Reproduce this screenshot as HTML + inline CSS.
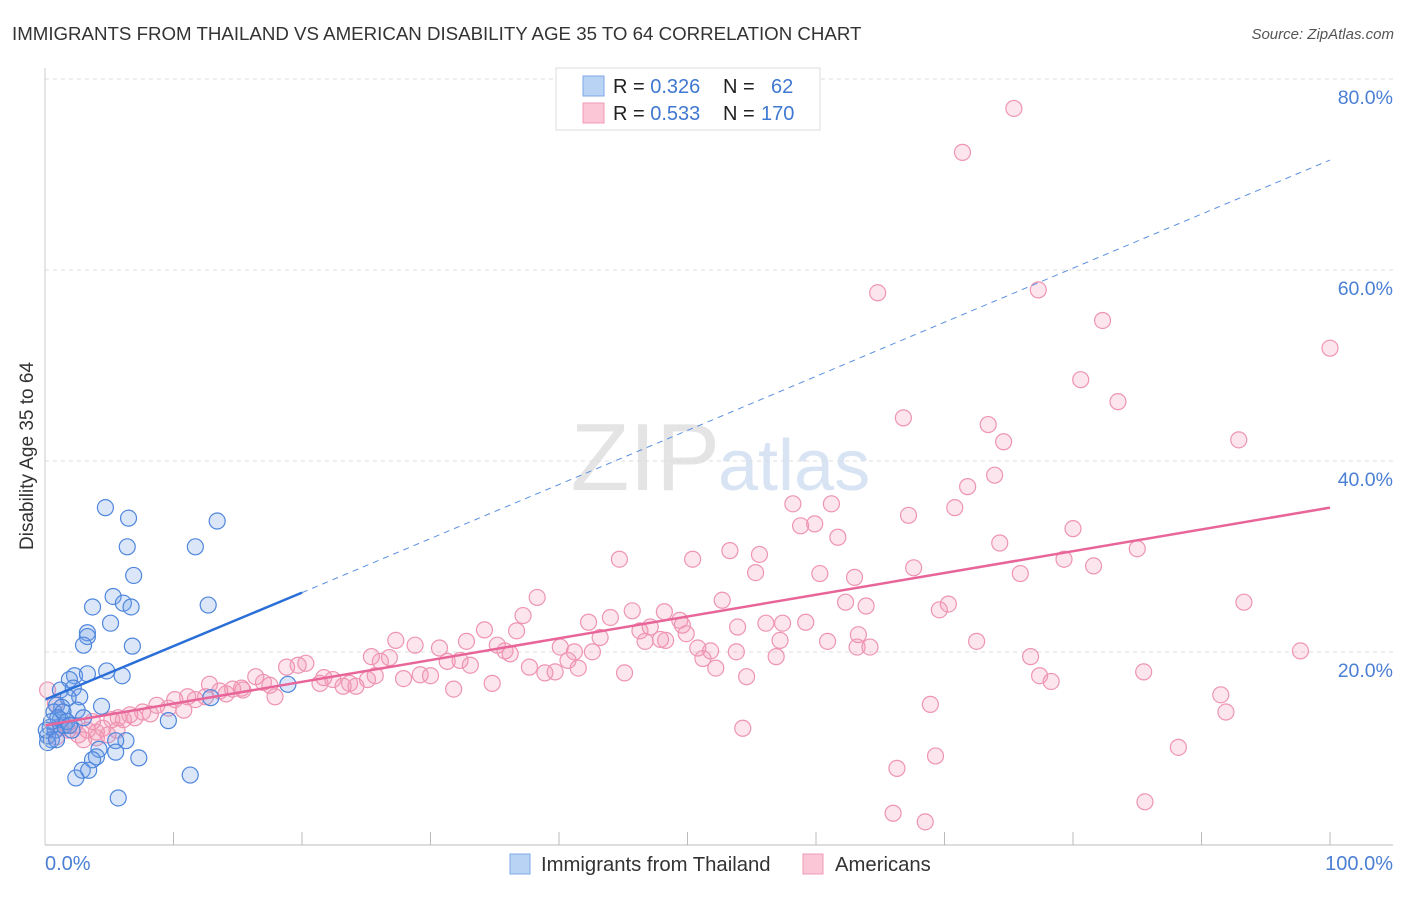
<!DOCTYPE html>
<html><head><meta charset="utf-8"><style>
body{margin:0;background:#fff;font-family:"Liberation Sans",sans-serif;}
svg text{font-family:"Liberation Sans",sans-serif;}
</style></head><body>
<svg id="chart" width="1406" height="892" xmlns="http://www.w3.org/2000/svg">
<text x="12" y="40" font-size="18.7" fill="#333">IMMIGRANTS FROM THAILAND VS AMERICAN DISABILITY AGE 35 TO 64 CORRELATION CHART</text>
<text x="1394" y="39" font-size="15" fill="#555" font-style="italic" text-anchor="end">Source: ZipAtlas.com</text>
<text x="720" y="490" font-size="96" fill="#e4e4e4" text-anchor="end" font-family="Liberation Serif">ZIP</text>
<text x="718" y="490" font-size="72" fill="#d8e4f4">atlas</text>
<text transform="translate(33,456) rotate(-90)" font-size="19" fill="#333" text-anchor="middle">Disability Age 35 to 64</text>
<g id="grid"></g><g id="marks"></g><g id="trends"></g>
<line x1="45" y1="845" x2="1393" y2="845" stroke="#bbb"/>
<line x1="45" y1="68" x2="45" y2="845" stroke="#ccc"/>
<text x="45" y="870" font-size="20" fill="#4a7fd4">0.0%</text>
<text x="1393" y="870" font-size="20" fill="#4a7fd4" text-anchor="end">100.0%</text>
<g>
<rect x="556" y="68" width="264" height="62" fill="#fff" stroke="#ddd"/>
<rect x="583" y="76" width="21" height="20" fill="#b9d3f5" stroke="#7da8e6"/>
<rect x="583" y="103" width="21" height="20" fill="#fbc7d6" stroke="#f09ab4"/>
<text x="613" y="93" font-size="20" fill="#222">R = <tspan fill="#3f78d0">0.326</tspan><tspan x="723">N = </tspan><tspan x="771" fill="#3f78d0">62</tspan></text>
<text x="613" y="120" font-size="20" fill="#222">R = <tspan fill="#3f78d0">0.533</tspan><tspan x="723">N = </tspan><tspan x="761" fill="#3f78d0">170</tspan></text>
</g>
<g>
<rect x="510" y="854" width="20" height="20" fill="#b9d3f5" stroke="#7da8e6"/>
<text x="541" y="871" font-size="20.3" fill="#333">Immigrants from Thailand</text>
<rect x="803" y="854" width="20" height="20" fill="#fbc7d6" stroke="#f09ab4"/>
<text x="835" y="871" font-size="20.3" fill="#333">Americans</text>
</g>
</svg>
<script>
const yTicks=[20,40,60,80];
const xTicks=[10,20,30,40,50,60,70,80,90,100];
const blueX=[4.7,6.5,13.4,6.4,11.7,6.9,5.3,6.1,6.7,12.7,3.7,5.1,3.3,3.3,3.0,6.8,2.3,3.3,6.0,4.8,1.9,1.2,2.2,2.7,1.8,0.9,1.3,4.4,0.7,2.5,12.9,18.9,3.0,9.6,1.2,1.5,0.4,0.8,0.2,0.5,0.2,2.1,6.3,5.5,4.2,5.5,4.0,3.7,7.3,2.9,3.4,2.4,11.3,5.7,1.4,1.0,1.7,0.5,0.1,0.9,1.9];
const blueY=[37.0,35.9,35.6,32.9,32.9,29.9,27.7,27.0,26.6,26.8,26.6,24.9,23.9,23.5,22.6,22.5,19.4,19.6,19.4,19.9,19.0,17.9,18.1,17.2,17.1,16.3,16.1,16.2,15.6,15.8,17.1,18.5,15.0,14.7,14.8,14.2,14.0,13.7,13.1,12.7,12.4,13.7,12.6,12.6,11.7,11.4,10.9,10.6,10.8,9.5,9.5,8.7,9.0,6.6,15.6,15.0,14.6,14.6,13.7,12.7,14.2];
const pinkX=[75.4,71.4,64.8,77.3,82.3,100,80.6,83.5,66.8,73.4,74.6,92.9,71.8,73.9,58.2,61.2,67.2,70.8,58.8,59.9,61.7,80.0,74.3,53.3,55.6,44.7,50.4,85.0,79.3,67.6,81.6,55.3,60.3,63.0,75.9,38.3,52.7,62.3,63.9,69.6,70.3,93.3,37.2,42.3,44.0,45.7,48.2,49.4,49.6,46.3,47.1,34.2,36.7,43.2,48.3,49.9,56.1,57.4,59.2,53.9,57.2,60.9,63.3,27.3,32.8,35.2,35.8,36.2,40.1,41.2,42.6,46.7,47.9,50.8,51.8,53.8,63.2,64.2,72.5,76.7,97.7,56.9,51.2,25.4,26.1,26.8,28.8,30.7,31.3,32.3,33.1,37.7,38.9,39.7,40.7,41.5,45.1,52.2,54.6,77.4,78.3,85.5,19.7,20.3,18.8,16.4,17.0,17.5,21.4,22.4,23.2,23.7,24.2,25.1,25.7,27.9,29.2,30.0,31.8,34.8,14.6,15.4,14.1,12.8,12.5,11.1,11.7,10.1,9.6,8.7,7.6,7.0,6.1,5.7,5.2,4.5,4.0,3.3,2.6,1.8,1.2,0.9,0.2,2.3,4.0,3.0,5.6,8.2,10.8,13.6,17.9,68.9,91.5,91.9,54.3,88.2,69.3,66.3,66.0,68.5,85.6,15.3,21.7,6.6,4.9,0.8,3.7];
const pinkY=[78.8,74.2,59.5,59.8,56.6,53.7,50.4,48.1,46.4,45.7,43.9,44.1,39.2,40.4,37.4,37.4,36.2,37.0,35.1,35.3,33.9,34.8,33.3,32.5,32.1,31.6,31.6,32.7,31.6,30.7,30.9,30.2,30.1,29.7,30.1,27.6,27.3,27.1,26.7,26.3,26.9,27.1,25.7,25.0,25.5,26.2,26.1,25.2,24.7,24.1,24.5,24.2,24.1,23.4,23.1,23.8,24.9,24.9,25.0,24.5,23.1,23.0,23.7,23.1,23.0,22.6,22.0,21.7,22.4,21.9,21.9,23.0,23.2,22.3,22.0,21.9,22.4,22.4,23.0,21.4,22.0,21.4,21.2,21.4,20.9,21.3,22.6,22.3,20.9,21.0,20.5,20.3,19.7,19.8,21.0,20.2,19.7,20.2,19.3,19.4,18.8,19.8,20.5,20.7,20.3,19.3,18.7,18.4,18.6,19.0,18.3,18.6,18.3,19.0,19.4,19.1,19.5,19.4,18.0,18.6,18.0,17.9,17.5,18.5,17.2,17.2,16.9,16.9,16.0,16.3,15.6,15.0,14.8,15.0,14.8,13.9,13.5,13.7,13.2,13.7,14.0,13.0,17.9,14.2,12.9,12.7,13.7,15.4,15.8,17.8,17.2,16.4,17.4,15.6,13.9,11.9,11.0,9.7,5.0,4.1,6.2,18.1,19.2,15.3,13.2,16.5,14.6];
const blueTrendX=[0,20,100];
const blueTrendY=[16.9,28.1,73.4];
const pinkTrendX=[0,100];
const pinkTrendY=[14.2,37.0];

const NS='http://www.w3.org/2000/svg';
const xs=v=>45+12.85*v;
const ys=v=>861-9.55*v;
function mk(tag,attrs,parent){const e=document.createElementNS(NS,tag);for(const k in attrs)e.setAttribute(k,attrs[k]);parent.appendChild(e);return e;}
const grid=document.getElementById('grid'),marks=document.getElementById('marks'),trends=document.getElementById('trends');
yTicks.forEach(t=>{
  const l=mk('line',{x1:45,x2:1393,y1:ys(t)-18,y2:ys(t)-18,stroke:'#ddd','stroke-dasharray':'4,4'},grid);
  
  
  const tx=mk('text',{x:1393,y:ys(t)+7,'font-size':19.5,fill:'#4a7fd4','text-anchor':'end'},grid);
  tx.textContent=t.toFixed(1)+'%';
  
  
});
xTicks.forEach(t=>{
  const l=mk('line',{x1:xs(t),x2:xs(t),y1:832,y2:845,stroke:'#bbb'},grid);
  
  
});
pinkX.forEach((x,i)=>{
  const c=mk('circle',{cx:xs(x),cy:ys(pinkY[i]),r:8,fill:'rgba(244,150,180,0.25)',stroke:'#ee94b2','stroke-width':1.2},marks);
  
  
});
blueX.forEach((x,i)=>{
  const c=mk('circle',{cx:xs(x),cy:ys(blueY[i]),r:8,fill:'rgba(110,160,230,0.25)',stroke:'#4f86dc','stroke-width':1.2},marks);
  
  
});
const bs=mk('line',{x1:xs(blueTrendX[0]),y1:ys(blueTrendY[0]),x2:xs(blueTrendX[1]),y2:ys(blueTrendY[1]),stroke:'#2a6fd8','stroke-width':2.5},trends);


const bd=mk('line',{x1:xs(blueTrendX[1]),y1:ys(blueTrendY[1]),x2:xs(blueTrendX[2]),y2:ys(blueTrendY[2]),stroke:'#5b8fe0','stroke-width':1,'stroke-dasharray':'6,5'},trends);


const pl=mk('line',{x1:xs(pinkTrendX[0]),y1:ys(pinkTrendY[0]),x2:xs(pinkTrendX[1]),y2:ys(pinkTrendY[1]),stroke:'#e8659a','stroke-width':2.5},trends);


</script>
</body></html>
